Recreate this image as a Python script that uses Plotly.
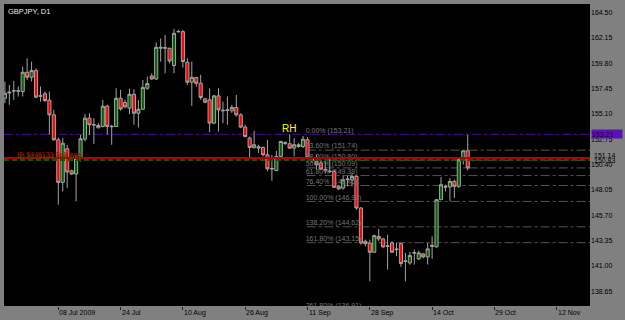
import plotly.graph_objects as go

# ---------------- data (GBPJPY daily bars) ----------------
open_ = [156.56, 157.05, 157.22, 157.25, 157.18, 158.97, 158.51, 159.13, 156.80, 156.97,
         156.38, 155.02, 152.70, 148.75, 151.87, 149.83, 149.52, 151.00, 152.76, 154.71,
         154.10, 153.81, 153.94, 155.82, 153.96, 153.94, 156.56, 156.16, 155.64, 156.93,
         155.17, 155.54, 157.49, 158.63, 158.35, 161.30, 161.20, 161.20, 159.60, 162.72,
         162.74, 159.90, 158.05, 158.48, 157.95, 156.50, 156.41, 154.25, 156.78, 155.45,
         155.42, 155.39, 155.70, 155.02, 153.88, 152.86, 151.99, 151.93, 151.99, 151.31,
         150.05, 149.86, 151.16, 152.35, 152.33, 151.93, 152.24, 152.08, 152.70, 150.80,
         150.69, 150.54, 149.95, 149.80, 149.77, 148.38, 148.22, 149.00, 149.00, 149.30,
         146.37, 143.28, 143.12, 142.26, 143.74, 143.50, 142.80, 143.12, 142.50, 143.06,
         141.40, 141.27, 142.18, 141.64, 142.11, 141.83, 142.80, 142.76, 147.14, 148.30,
         148.32, 148.84, 148.38, 150.85, 151.68]
high = [158.11, 157.80, 158.17, 157.65, 159.50, 160.27, 159.96, 159.34, 157.65, 157.18,
        157.18, 155.48, 152.92, 152.86, 152.24, 149.92, 151.31, 153.16, 155.08, 155.17,
        154.71, 154.25, 156.41, 155.95, 154.09, 157.49, 157.34, 156.41, 157.43, 157.40,
        156.41, 158.26, 158.57, 158.88, 161.75, 162.12, 162.43, 161.26, 162.99, 162.93,
        162.90, 160.27, 159.96, 158.55, 158.73, 156.60, 157.49, 156.87, 157.49, 156.25,
        156.72, 155.95, 156.87, 155.17, 154.09, 153.01, 153.54, 152.24, 152.08, 152.70,
        151.31, 151.68, 152.60, 152.55, 153.21, 152.86, 152.40, 153.07, 152.95, 151.10,
        151.31, 150.85, 150.79, 151.10, 149.92, 148.44, 149.37, 149.37, 149.61, 149.37,
        146.46, 143.43, 143.43, 143.90, 144.42, 143.56, 143.90, 143.28, 143.12, 143.12,
        142.20, 142.30, 142.51, 142.40, 142.20, 143.12, 143.74, 147.20, 149.24, 148.53,
        149.15, 148.99, 150.91, 151.68, 153.17]
low = [156.10, 155.95, 156.41, 156.72, 156.72, 158.26, 158.11, 156.56, 156.25, 156.19,
       153.17, 152.60, 146.68, 147.91, 148.22, 149.46, 146.99, 150.69, 152.55, 153.17,
       152.33, 153.78, 153.85, 153.17, 152.24, 153.94, 155.39, 155.64, 155.08, 154.09,
       153.85, 155.48, 157.34, 158.26, 158.26, 159.96, 158.88, 159.80, 158.88, 162.68,
       159.40, 157.80, 155.85, 157.64, 156.41, 156.10, 153.41, 154.15, 153.47, 154.25,
       154.09, 155.20, 154.86, 153.78, 152.92, 151.00, 151.87, 151.47, 151.16, 149.77,
       148.90, 149.77, 151.00, 152.24, 151.87, 151.16, 151.95, 151.93, 150.91, 150.54,
       149.92, 149.92, 149.61, 149.61, 148.22, 148.07, 148.07, 148.38, 148.38, 146.22,
       142.97, 142.82, 139.57, 142.20, 143.28, 142.70, 140.65, 142.20, 141.89, 140.90,
       139.57, 141.10, 141.12, 141.55, 141.70, 141.12, 141.64, 142.70, 147.14, 147.91,
       146.99, 147.30, 148.22, 150.40, 149.86]
close = [157.03, 157.12, 157.26, 157.22, 158.97, 158.51, 159.13, 156.66, 156.75, 156.35,
         155.02, 152.70, 148.75, 152.39, 149.71, 149.52, 151.00, 152.79, 154.71, 154.09,
         154.08, 154.03, 155.82, 153.94, 153.92, 156.56, 155.57, 155.76, 156.93, 155.17,
         155.54, 157.55, 157.92, 158.35, 161.29, 161.22, 161.25, 160.02, 162.59, 162.76,
         159.96, 158.05, 158.51, 157.95, 156.63, 156.19, 154.25, 156.78, 155.48, 155.40,
         155.47, 155.70, 155.02, 153.88, 153.01, 151.99, 152.24, 152.05, 151.31, 150.01,
         150.00, 151.16, 152.55, 152.42, 151.93, 152.24, 152.08, 152.76, 151.02, 150.90,
         150.39, 149.98, 149.90, 149.75, 148.29, 148.13, 149.00, 149.05, 149.30, 146.37,
         143.12, 143.06, 142.26, 143.80, 143.50, 142.75, 142.85, 142.26, 142.55, 141.21,
         141.45, 141.95, 142.22, 142.20, 141.83, 142.57, 142.90, 147.14, 148.53, 148.35,
         148.84, 148.38, 150.85, 151.68, 150.08]

# time-axis labels (bar index where MT4 puts each date label)
x_tick_labels = ["08 Jul 2009", "24 Jul", "10 Aug", "26 Aug", "11 Sep",
                 "28 Sep", "14 Oct", "29 Oct", "12 Nov"]
x_tick_bars = [12, 26, 40, 54, 68, 82, 96, 110, 124]

# price scale labels
y_ticks = [164.50, 162.15, 159.80, 157.45, 155.10, 152.75, 150.40,
           148.05, 145.70, 143.35, 141.00, 138.65]

# Fibonacci retracement (anchored at bar 68)
fib_anchor_bar = 68
fib_pcts = ["0.00%", "23.60%", "38.20%", "50.00%", "61.80%", "76.40%",
            "100.00%", "138.20%", "161.80%", "261.80%"]
fib_prices = [153.21, 151.74, 150.80, 150.09, 149.38, 148.46,
              146.98, 144.62, 143.15, 136.91]

rh_bar, rh_price = 63.8, 153.72
order_line_price = 151.02          # red line
sell_limit_price = 150.83          # green dashed line
fib_high_price = 153.21

bars = list(range(len(close)))
X_RANGE = [-0.2, 131.48]
Y_RANGE = [137.27, 165.31]
FONT = "Liberation Sans, Arial, sans-serif"

fig = go.Figure()

# fib level labels (clipped text)
fig.add_trace(go.Scatter(
    x=[fib_anchor_bar - 0.4] * len(fib_prices), y=fib_prices,
    mode="text", text=[f"{p} ({v:.2f})" for p, v in zip(fib_pcts, fib_prices)],
    textposition="top right", textfont=dict(size=7, color="#767676", family=FONT),
    hoverinfo="skip", showlegend=False, cliponaxis=True))

fig.add_trace(go.Candlestick(
    x=bars, open=open_, high=high, low=low, close=close,
    increasing=dict(fillcolor="#006400", line=dict(color="#a4a4a4", width=1)),
    decreasing=dict(fillcolor="#ff0000", line=dict(color="#a4a4a4", width=1)),
    whiskerwidth=0, showlegend=False, hoverinfo="skip"))

shapes = []
for v in fib_prices[1:]:
    shapes.append(dict(type="line", xref="x", yref="y", x0=fib_anchor_bar - 0.2, x1=X_RANGE[1],
                       y0=v, y1=v, line=dict(color="#545454", width=1, dash="dashdot"), layer="below"))
shapes.append(dict(type="line", xref="paper", yref="y", x0=0, x1=1, y0=fib_high_price, y1=fib_high_price,
                   line=dict(color="#4c0c9c", width=1, dash="dashdot"), layer="below"))
shapes.append(dict(type="line", xref="paper", yref="y", x0=0, x1=1, y0=sell_limit_price, y1=sell_limit_price,
                   line=dict(color="#0a5a0a", width=2, dash="5px,3px"), layer="above"))
shapes.append(dict(type="line", xref="paper", yref="y", x0=0, x1=1, y0=order_line_price, y1=order_line_price,
                   line=dict(color="#b40000", width=2), layer="above"))

annotations = []
# date labels, left-aligned at tick
for lab, b in zip(x_tick_labels, x_tick_bars):
    annotations.append(dict(x=b, y=0, xref="x", yref="paper", text=lab, showarrow=False,
                            xanchor="left", yanchor="top", yshift=-1, xshift=-1,
                            font=dict(size=7, color="#000000", family=FONT)))
annotations += [
    dict(x=0.003, y=1, xref="paper", yref="paper", text="GBPJPY, D1", showarrow=False,
         xanchor="left", yanchor="top", yshift=-1, font=dict(size=7.5, color="#e8e8e8", family=FONT)),
    dict(x=rh_bar, y=rh_price, xref="x", yref="y", text="RH", showarrow=False,
         font=dict(size=10, color="#ffff00", family=FONT)),
    dict(x=2.4, y=151.28, xref="x", yref="y", text="ID 5448133 Sell limit", showarrow=False,
         xanchor="left", font=dict(size=7, color="#006000", family=FONT), yshift=-1),
    dict(x=2.4, y=151.28, xref="x", yref="y", text="ID 5448133 Sell limit", showarrow=False,
         xanchor="left", font=dict(size=7, color="#c00000", family=FONT), xshift=-1, yshift=1),
    dict(x=1, y=order_line_price, xref="paper", yref="y", text=f"{order_line_price + 0.12:.2f}",
         showarrow=False, xanchor="left", xshift=2, yshift=2, font=dict(size=7, color="#000", family=FONT)),
    dict(x=1, y=sell_limit_price, xref="paper", yref="y", text=f"{sell_limit_price:.2f}",
         showarrow=False, xanchor="left", xshift=2, yshift=-1, font=dict(size=7, color="#000", family=FONT)),
    dict(x=1, y=fib_high_price, xref="paper", yref="y", text=f"{fib_high_price:.2f}", showarrow=False,
         xanchor="left", xshift=1, bgcolor="#5a12b4", width=30, height=8, align="left", borderpad=0,
         font=dict(size=7, color="#1c0038", family=FONT)),
]

fig.update_layout(
    width=625, height=320,
    margin=dict(l=4, r=35, t=4, b=14),
    paper_bgcolor="#808080", plot_bgcolor="#000000",
    boxgap=0.3, boxgroupgap=0,
    shapes=shapes, annotations=annotations, showlegend=False,
    xaxis=dict(range=X_RANGE, showgrid=False, zeroline=False, tickvals=x_tick_bars,
               ticks="outside", ticklen=3, tickcolor="#202020", showticklabels=False,
               rangeslider=dict(visible=False), fixedrange=True),
    yaxis=dict(range=Y_RANGE, side="right", showgrid=False, zeroline=False,
               tickvals=y_ticks, ticktext=[f"{v:.2f}" for v in y_ticks], ticks="",
               tickfont=dict(size=7, color="#000000", family=FONT), fixedrange=True),
)

fig.write_html("out.html")
